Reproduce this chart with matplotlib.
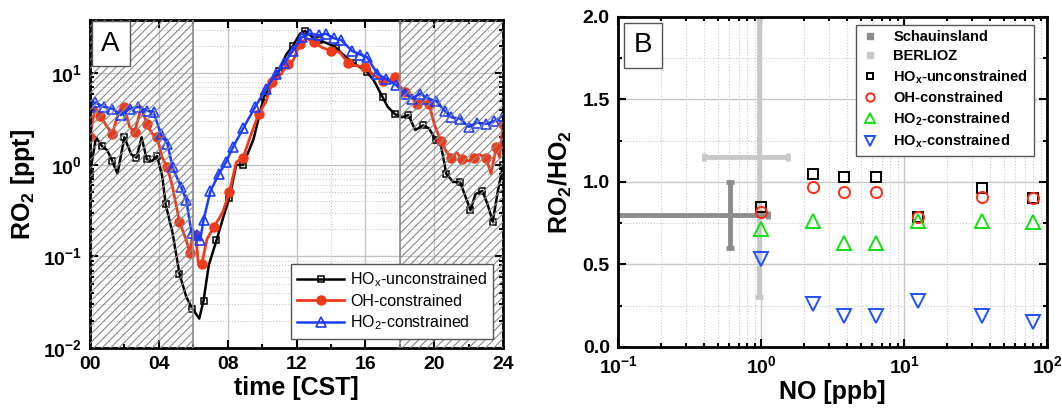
import matplotlib
matplotlib.use("Agg")
import matplotlib.pyplot as plt
import numpy as np
from matplotlib.lines import Line2D
from matplotlib.ticker import FixedLocator, FuncFormatter, LogLocator, MultipleLocator, NullFormatter

plt.rcParams["font.family"] = ["Liberation Sans", "DejaVu Sans"]
plt.rcParams["mathtext.fontset"] = "custom"
plt.rcParams["mathtext.rm"] = "Liberation Sans"
plt.rcParams["mathtext.bf"] = "Liberation Sans:bold"
plt.rcParams["mathtext.it"] = "Liberation Sans:italic"
plt.rcParams["hatch.linewidth"] = 0.8

# ── Panel A: diurnal RO2 from the three model runs ───────────────────────────
t_hox_unc = [0.0, 0.35, 0.7, 1.0, 1.3, 1.6, 2.0, 2.4, 2.7, 3.0, 3.3, 3.6, 3.9, 4.2, 4.4,
             4.8, 5.2, 5.6, 5.95, 6.35, 6.6, 6.9, 7.35, 7.75, 8.1, 8.5, 8.9, 9.5, 10.1,
             10.45, 11.0, 11.4, 11.8, 12.2, 12.5, 12.9, 13.3, 13.85, 14.3, 14.7, 15.3,
             15.7, 16.1, 16.5, 17.0, 17.3, 17.7, 18.1, 18.5, 18.9, 19.35, 19.7, 20.1,
             20.4, 20.7, 21.1, 21.5, 21.9, 22.1, 22.4, 22.8, 23.1, 23.4, 23.7, 24.0]
ro2_hox_unc = [0.8, 2.0, 1.6, 1.45, 1.1, 0.8, 2.0, 1.3, 1.2, 2.0, 1.15, 1.1, 1.25, 0.75, 0.37,
               0.18, 0.065, 0.036, 0.027, 0.021, 0.033, 0.08, 0.15, 0.27, 0.44, 1.0, 1.0, 1.9,
               5.5, 7.0, 10.7, 16, 20, 27, 29, 25, 23, 21, 19, 16, 13,
               11.6, 10.3, 8.3, 5.5, 4.3, 3.6, 3.3, 3.5, 2.4, 2.7, 2.5, 1.85,
               1.6, 0.8, 0.65, 0.65, 0.41, 0.32, 0.48, 0.52, 0.37, 0.24, 0.52, 1.0]

t_oh = [0.0, 0.3, 0.6, 1.0, 1.3, 1.7, 2.0, 2.3, 2.6, 3.0, 3.3, 3.6, 3.9, 4.2, 4.5, 4.8,
        5.2, 5.6, 5.8, 6.0, 6.15, 6.3, 6.5, 6.8, 7.2, 7.7, 8.1, 8.5, 8.9, 9.3, 9.8, 10.2,
        10.6, 11.1, 11.5, 11.8, 12.2, 12.6, 13.0, 13.5, 14.0, 14.5, 15.0, 15.4, 16.0,
        16.5, 17.0, 17.4, 17.7, 17.9, 18.3, 18.7, 19.0, 19.3, 19.7, 20.0, 20.4, 20.7,
        21.0, 21.3, 21.6, 22.0, 22.3, 22.6, 23.0, 23.3, 23.6, 23.8, 24.0]
ro2_oh = [2.0, 4.3, 3.4, 2.6, 2.2, 3.9, 4.3, 2.6, 2.3, 4.3, 2.8, 2.2, 2.0, 1.2, 0.94, 0.57,
          0.24, 0.15, 0.11, 0.19, 0.17, 0.083, 0.083, 0.155, 0.21, 0.30, 0.5, 1.07, 1.2, 2.0,
          3.6, 4.8, 8.0, 9.8, 12.6, 13.7, 21, 24, 22, 19, 17.7, 17, 13, 12.2, 11.6,
          9.5, 8.3, 8.5, 9.0, 7.7, 6.2, 5.5, 4.6, 5.0, 4.6, 2.8, 1.8, 1.4,
          1.2, 1.37, 1.16, 1.1, 1.2, 1.3, 1.2, 0.8, 1.55, 1.2, 2.8]

t_ho2 = [0.0, 0.3, 0.8, 1.3, 1.8, 2.3, 2.8, 3.3, 3.7, 4.1, 4.5, 4.8, 5.3, 5.6, 5.9, 6.2,
         6.4, 6.6, 7.0, 7.5, 7.9, 8.3, 8.9, 9.6, 10.2, 10.8, 11.3, 11.8, 12.3, 12.8, 13.3,
         13.7, 14.2, 14.6, 15.2, 15.7, 16.1, 16.7, 17.2, 17.8, 18.3, 18.7, 19.2, 19.6,
         20.1, 20.6, 21.0, 21.5, 22.0, 22.5, 23.0, 23.5, 24.0]
ro2_ho2 = [4.3, 4.8, 4.3, 4.1, 3.5, 4.1, 4.3, 3.9, 3.8, 2.2, 1.7, 0.94, 0.57, 0.41, 0.18, 0.17,
           0.15, 0.25, 0.52, 0.8, 1.07, 1.55, 2.5, 4.3, 6.7, 9.8, 13, 17.7, 24.7, 27, 26,
           27, 24, 23, 17.7, 16, 15, 9.8, 8.7, 7.4, 6.0, 5.3, 6.0, 5.3,
           5.0, 3.9, 3.3, 3.2, 2.6, 2.9, 2.8, 3.0, 3.45]

# ── Panel B: RO2/HO2 vs NO ───────────────────────────────────────────────────
no_ppb = [1.0, 2.3, 3.8, 6.4, 12.5, 35, 80]
ratio_hox_unc = [0.85, 1.05, 1.03, 1.03, 0.79, 0.96, 0.90]
ratio_oh = [0.82, 0.97, 0.94, 0.94, 0.79, 0.91, 0.90]
ratio_ho2 = [0.715, 0.765, 0.63, 0.63, 0.765, 0.765, 0.755]
ratio_hox_con = [0.53, 0.26, 0.19, 0.19, 0.28, 0.19, 0.15]

schau_no, schau_ratio = 0.61, 0.80
schau_no_err = [[0.56], [0.50]]
schau_ratio_err = [[0.20], [0.20]]
berl_no, berl_ratio = 0.97, 1.15
berl_no_err = [[0.57], [0.56]]
berl_ratio_err = [[0.85], [0.85]]

fig = plt.figure(figsize=(10.62, 4.11), dpi=100)
axA = fig.add_axes([0.0847, 0.153, 0.389, 0.798])
axB = fig.add_axes([0.582, 0.156, 0.404, 0.803])


def style_axes(ax):
    for s in ax.spines.values():
        s.set_linewidth(2)
    ax.tick_params(which="both", direction="in", top=True, right=True, width=1.5)
    ax.tick_params(which="major", length=6, labelsize=14, pad=6)
    ax.tick_params(which="minor", length=3)
    for lab in ax.get_xticklabels() + ax.get_yticklabels():
        lab.set_fontweight("bold")


# panel A
axA.set_yscale("log")
axA.set_xlim(0, 24)
axA.set_ylim(1e-2, 38)
for x0, x1 in [(0, 6), (18, 24)]:
    axA.axvspan(x0, x1, facecolor="none", edgecolor="#8a8a8a", hatch="////", lw=0, zorder=3)
axA.axvline(6, color="#8a8a8a", lw=1.2, zorder=3)
axA.axvline(18, color="#8a8a8a", lw=1.2, zorder=3)

axA.plot(t_hox_unc, ro2_hox_unc, color="black", lw=1.8, marker="s", ms=4.5, mfc="none",
         mec="black", mew=1.1, markevery=2, label=r"HO$_\mathrm{x}$-unconstrained")
axA.plot(t_oh, ro2_oh, color="#f03a1a", lw=2.0, marker="o", ms=6.5, markevery=2,
         label="OH-constrained")
axA.plot(t_ho2, ro2_ho2, color="#1a3cff", lw=1.8, marker="^", ms=7, mfc="none",
         mec="#1a3cff", mew=1.2, markevery=1, label=r"HO$_\mathrm{2}$-constrained")

axA.xaxis.set_major_locator(FixedLocator([0, 4, 8, 12, 16, 20, 24]))
axA.xaxis.set_minor_locator(MultipleLocator(2))
axA.xaxis.set_major_formatter(FuncFormatter(lambda v, p: "%02d" % int(round(v))))
axA.yaxis.set_major_locator(LogLocator(base=10, numticks=10))
axA.yaxis.set_minor_locator(LogLocator(base=10, subs=np.arange(2, 10), numticks=20))
axA.yaxis.set_minor_formatter(NullFormatter())
axA.yaxis.set_major_formatter(FuncFormatter(lambda v, p: r"$\mathbf{10^{%d}}$" % int(round(np.log10(v)))))
axA.grid(which="major", color="#c4c4c4", lw=1.0, ls="-")
axA.grid(which="minor", color="#c8c8c8", lw=0.8, ls=":")
axA.set_axisbelow(True)
style_axes(axA)
axA.set_xlabel("time [CST]", fontsize=18, fontweight="bold", labelpad=2)
axA.set_ylabel(r"RO$_\mathbf{2}$ [ppt]", fontsize=18, fontweight="bold", labelpad=4)
legA = axA.legend(loc="lower right", fontsize=11.5, handlelength=2.9, fancybox=False,
                  framealpha=1, edgecolor="#555555", borderaxespad=0.6, handletextpad=0.4,
                  labelspacing=0.3)
legA.get_frame().set_linewidth(1.0)
legA.set_zorder(6)
axA.text(0.05, 0.928, "A", transform=axA.transAxes, fontsize=20, ha="center", va="center",
         zorder=7, bbox=dict(boxstyle="square,pad=0.35", fc="white", ec="#555555", lw=1))

# panel B
axB.set_xscale("log")
axB.set_xlim(0.1, 100)
axB.set_ylim(0, 2.0)
axB.errorbar([berl_no], [berl_ratio], xerr=berl_no_err, yerr=berl_ratio_err, fmt="none",
             ecolor="#c8c8c8", elinewidth=3.5, capsize=3, capthick=3.5, zorder=2)
axB.errorbar([schau_no], [schau_ratio], xerr=schau_no_err, yerr=schau_ratio_err, fmt="none",
             ecolor="#8c8c8c", elinewidth=3.5, capsize=3, capthick=3.5, zorder=2)
axB.plot(no_ppb, ratio_hox_unc, ls="none", marker="s", ms=6.5, mfc="none", mec="black",
         mew=1.4, zorder=3)
axB.plot(no_ppb, ratio_oh, ls="none", marker="o", ms=8, mfc="none", mec="#ff2a10",
         mew=1.4, zorder=3)
axB.plot(no_ppb, ratio_ho2, ls="none", marker="^", ms=9.5, mfc="none", mec="#10e010",
         mew=1.4, zorder=3)
axB.plot(no_ppb, ratio_hox_con, ls="none", marker="v", ms=9.5, mfc="none", mec="#2050ff",
         mew=1.4, zorder=3)

axB.xaxis.set_major_locator(LogLocator(base=10, numticks=10))
axB.xaxis.set_minor_locator(LogLocator(base=10, subs=np.arange(2, 10), numticks=20))
axB.xaxis.set_minor_formatter(NullFormatter())
axB.xaxis.set_major_formatter(FuncFormatter(lambda v, p: r"$\mathbf{10^{%d}}$" % int(round(np.log10(v)))))
axB.yaxis.set_major_locator(MultipleLocator(0.5))
axB.yaxis.set_minor_locator(MultipleLocator(0.25))
axB.yaxis.set_major_formatter(FuncFormatter(lambda v, p: "%.1f" % v))
axB.grid(which="major", color="#c8c8c8", lw=1.0, ls="-")
axB.grid(which="minor", color="#c8c8c8", lw=0.8, ls=":")
axB.set_axisbelow(True)
style_axes(axB)
axB.set_xlabel("NO [ppb]", fontsize=18, fontweight="bold", labelpad=2)
axB.set_ylabel(r"RO$_\mathbf{2}$/HO$_\mathbf{2}$", fontsize=18, fontweight="bold", labelpad=6)

handles = [
    Line2D([], [], ls="none", marker="s", ms=4, color="#8c8c8c"),
    Line2D([], [], ls="none", marker="s", ms=4, color="#c8c8c8"),
    Line2D([], [], ls="none", marker="s", ms=5, mfc="none", mec="black", mew=1.4),
    Line2D([], [], ls="none", marker="o", ms=6, mfc="none", mec="#ff2a10", mew=1.4),
    Line2D([], [], ls="none", marker="^", ms=6.5, mfc="none", mec="#10e010", mew=1.4),
    Line2D([], [], ls="none", marker="v", ms=6.5, mfc="none", mec="#2050ff", mew=1.4),
]
labels = ["Schauinsland", "BERLIOZ", r"HO$_\mathbf{x}$-unconstrained", "OH-constrained",
          r"HO$_\mathbf{2}$-constrained", r"HO$_\mathbf{x}$-constrained"]
legB = axB.legend(handles, labels, loc="upper right", prop=dict(size=10.5, weight="bold"),
                  fancybox=False, framealpha=1, edgecolor="#555555", handlelength=1.2,
                  handletextpad=1.0, labelspacing=0.35, borderaxespad=0.3,
                  bbox_to_anchor=(0.98, 0.99))
legB.get_frame().set_linewidth(1.0)
axB.text(0.057, 0.914, "B", transform=axB.transAxes, fontsize=20, ha="center", va="center",
         zorder=7, bbox=dict(boxstyle="square,pad=0.35", fc="white", ec="#555555", lw=1))

fig.savefig("out.png", dpi=100)
